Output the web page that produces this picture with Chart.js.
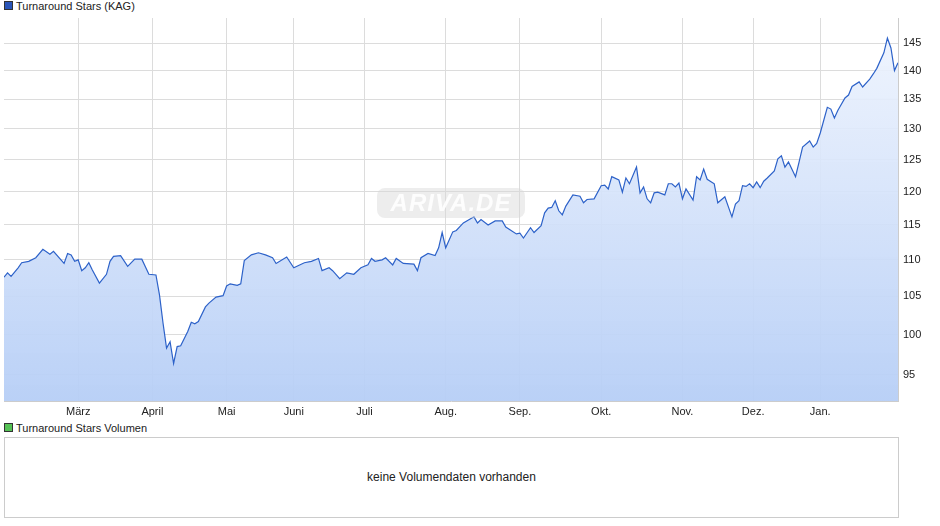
<!DOCTYPE html>
<html>
<head>
<meta charset="utf-8">
<script src="https://cdn.jsdelivr.net/npm/chart.js@4.4.1/dist/chart.umd.min.js"></script>
<style>
  body { margin:0; background:#fff; font-family:"Liberation Sans", Arial, sans-serif; }
  #wrap { position:relative; width:940px; height:526px; }
  .legend { position:absolute; left:4px; font-size:11px; color:#222; line-height:12px; }
  .legend i { display:inline-block; width:7px; height:7px; border:1px solid #333; margin-right:3px; vertical-align:0px; }
  #priceBox { position:absolute; left:0; top:0; width:930px; height:420px; }
  #mark { position:absolute; left:377px; top:188px; width:148px; height:30px; border-radius:8px;
          background:rgba(215,215,215,0.45); color:rgba(255,255,255,0.9); font-style:italic;
          font-weight:bold; font-size:24px; text-align:center; line-height:30px; letter-spacing:1px; }
  #volBox { position:absolute; left:4px; top:437px; width:893px; height:79px; border:1px solid #ccc;
            font-size:12px; color:#222; text-align:center; line-height:79px; }
</style>
</head>
<body>
<div id="wrap">
  <div class="legend" style="top:0px"><i style="background:#2a55b8"></i>Turnaround Stars (KAG)</div>
  <div id="priceBox"><canvas id="price" width="930" height="420"></canvas></div>
  <div id="mark">ARIVA.DE</div>
  <div class="legend" style="top:422px"><i style="background:#55c255"></i>Turnaround Stars Volumen</div>
  <div id="volBox">keine Volumendaten vorhanden</div>
</div>
<script>
// trading day index and closing value
const days = [0,1,2,4,5,7,9,11,13,14,17,18,19,20,21,22,23,24,25,27,29,30,31,33,35,37,39,41,43,44,
  45,46,47,48,49,50,52,53,54,55,57,58,60,62,63,64,66,67,68,70,72,74,76,77,80,82,85,87,89,90,
  92,93,95,97,99,101,103,104,105,107,108,110,111,113,116,117,118,120,122,123,124,125,127,128,130,133,134,135,137,139,
  141,142,145,146,147,149,150,152,153,154,155,156,157,158,159,161,163,164,165,167,169,170,171,172,174,175,176,177,179,180,
  181,182,183,184,185,187,188,189,190,191,192,193,195,196,197,198,199,201,202,204,206,207,208,209,210,211,212,213,214,215,
  216,218,219,220,221,222,224,225,226,228,229,230,231,233,234,235,236,238,239,240,242,243,245,246,247,249,250,251,252,253]
const values = [107.6,108.2,107.7,108.9,109.6,109.8,110.3,111.5,110.8,111.2,109.5,110.9,110.7,109.8,110.0,108.5,108.9,109.6,108.6,106.8,108.0,109.8,110.5,110.6,109.1,110.1,110.1,108.0,107.9,105.2,
  101.5,98.3,99.1,96.4,98.5,98.6,100.4,101.6,101.4,101.7,103.6,104.1,104.9,105.1,106.4,106.7,106.5,106.7,109.9,110.7,111.0,110.7,110.3,109.5,110.4,108.9,109.6,109.8,110.2,108.5,
  108.9,108.5,107.4,108.2,108.0,108.9,109.3,110.2,109.8,110.0,110.3,109.3,110.2,109.5,109.4,108.5,110.3,110.9,110.6,111.7,113.9,111.7,114.0,114.2,115.3,116.2,115.3,115.8,115.0,115.6,
  115.6,114.7,113.7,113.8,113.1,114.6,113.9,114.9,116.8,117.5,117.6,118.6,117.1,116.5,117.8,119.5,119.3,118.3,118.8,118.9,120.9,121.0,120.4,122.3,121.8,119.9,122.1,121.2,123.8,119.8,
  120.7,118.9,118.3,119.8,119.9,119.5,121.2,121.2,120.7,121.3,118.9,120.4,118.7,122.3,121.8,123.5,121.9,121.2,118.3,119.2,116.2,118.1,118.6,120.9,120.8,121.2,120.6,121.5,120.6,121.6,
  122.1,123.2,125.1,125.6,123.8,124.6,122.3,124.6,127.0,128.0,127.0,127.6,129.3,133.6,133.3,131.8,133.1,135.2,135.7,137.2,138.0,137.1,138.5,139.4,140.4,143.2,145.9,144.1,140.0,141.4]

const monthTicks = [21,42,63,82,102,125,146,169,192,212,231]
const monthLabels = ['März','April','Mai','Juni','Juli','Aug.','Sep.','Okt.','Nov.','Dez.','Jan.']
const priceTicks = [95,100,105,110,115,120,125,130,135,140,145]

const FONT = { family: '"Liberation Sans", Arial, sans-serif', size: 11 }
const GRID = '#dcdcdc'

new Chart(document.getElementById('price'), {
  type: 'line',
  data: {
    datasets: [{
      data: days.map((d, i) => ({ x: d, y: values[i] })),
      borderColor: '#2d62c9',
      borderWidth: 1.2,
      pointRadius: 0,
      tension: 0,
      fill: 'start',
      backgroundColor: (ctx) => {
        const area = ctx.chart.chartArea
        if (!area) return 'rgba(190,212,248,0.8)'
        const g = ctx.chart.ctx.createLinearGradient(0, area.top, 0, area.bottom)
        g.addColorStop(0, 'rgba(240,245,254,0.9)')
        g.addColorStop(1, 'rgba(182,206,246,0.95)')
        return g
      }
    }]
  },
  options: {
    responsive: false,
    animation: false,
    layout: { padding: { left: 4, top: 18, right: 0, bottom: 0 } },
    plugins: { legend: { display: false }, tooltip: { enabled: false } },
    scales: {
      x: {
        type: 'linear', min: 0, max: 253,
        afterBuildTicks: (s) => { s.ticks = monthTicks.map(v => ({ value: v })) },
        afterFit: (s) => { s.height = 19 },
        ticks: {
          font: FONT, color: '#222', maxRotation: 0, autoSkip: false, padding: 4,
          callback: (v) => monthLabels[monthTicks.indexOf(v)]
        },
        grid: { color: GRID, drawTicks: false },
        border: { color: '#ccc' }
      },
      y: {
        type: 'logarithmic', position: 'right', min: 91.9, max: 149.7,
        afterBuildTicks: (s) => { s.ticks = priceTicks.map(v => ({ value: v })) },
        afterFit: (s) => { s.width = 32 },
        ticks: { font: FONT, color: '#222', padding: 5, callback: (v) => String(v) },
        grid: { color: GRID, drawTicks: false },
        border: { color: '#ccc' }
      }
    }
  }
})
</script>
</body>
</html>
